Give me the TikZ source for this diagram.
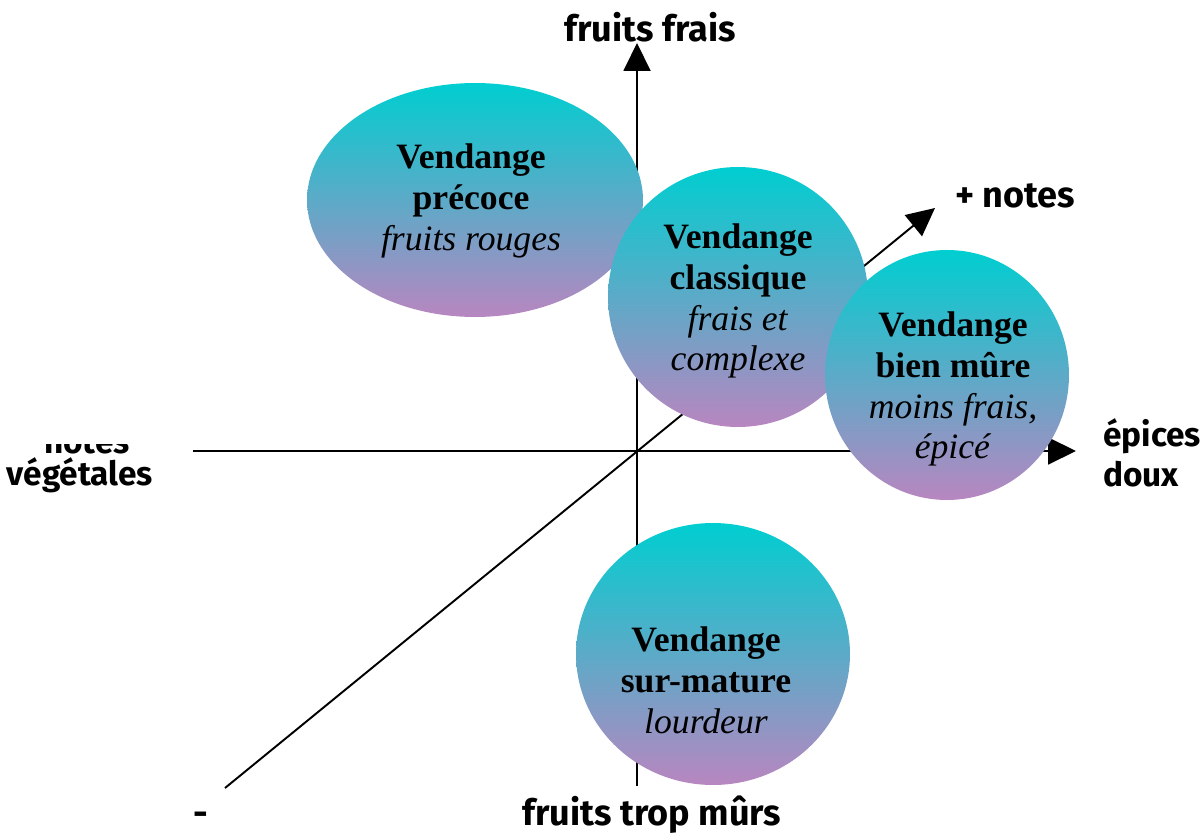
\documentclass[tikz,border=0pt]{standalone}
\usepackage{fontspec}
\setmainfont{Liberation Serif}
\newfontfamily\labelfont{Fira Sans}
\usetikzlibrary{arrows.meta,shapes.geometric}

\definecolor{bubbletop}{RGB}{0,206,208}
\definecolor{bubblebottom}{RGB}{184,134,192}

\begin{document}
\begin{tikzpicture}[x=0.02cm,y=-0.02cm,
  axisline/.style={line width=1.1pt,-{Triangle[length=0.56cm,width=0.54cm]}},
  bubble/.style={ellipse,inner sep=0pt,draw=none,top color=bubbletop,bottom color=bubblebottom},
  bubbletext/.style={align=center,inner sep=0pt,font=\fontsize{20.3}{23.3}\selectfont},
  axislabel/.style={inner sep=0pt,font=\labelfont\bfseries\fontsize{20.5}{24}\selectfont},
  sidelabel/.style={inner sep=0pt,font=\labelfont\bfseries\fontsize{19}{22}\selectfont}]
\useasboundingbox (0,0) rectangle (1203,834);

% axes
\coordinate (origin) at (637,451);
\coordinate (ytop) at (637,43);
\coordinate (ybot) at (637,786);
\coordinate (xleft) at (193,451);
\coordinate (xright) at (1076,451);
\coordinate (zfar) at (225,788);
\coordinate (znear) at (935,208);
\draw[axisline] (ybot) -- (ytop);
\draw[axisline] (xleft) -- (xright);
\draw[axisline] (zfar) -- (znear);

% harvest bubbles
\node[bubble,minimum width=6.72cm,minimum height=4.68cm] (precoce) at (475,200) {};
\node[bubble,minimum width=5.2cm,minimum height=5.2cm] (classique) at (738,297) {};
\node[bubble,minimum width=4.88cm,minimum height=5.0cm] (mure) at (947,375) {};
\node[bubble,minimum width=5.48cm,minimum height=5.24cm] (surmature) at (713,654) {};

\node[bubbletext] (tprecoce) at (471,201) {\textbf{Vendange}\\\textbf{précoce}\\\textit{fruits rouges}};
\node[bubbletext] (tclassique) at (738,301) {\textbf{Vendange}\\\textbf{classique}\\\textit{frais et}\\\textit{complexe}};
\node[bubbletext] (tmure) at (953,389) {\textbf{Vendange}\\\textbf{bien mûre}\\\textit{moins frais,}\\\textit{épicé}};
\node[bubbletext] (tsurmature) at (706,680) {\textbf{Vendange}\\\textbf{sur-mature}\\\textit{lourdeur}};

% axis labels
\node[axislabel,anchor=base] (lfrais) at (650,42) {fruits frais};
\node[axislabel,anchor=base] (lnotes) at (1015,208) {+ notes};
\node[sidelabel,anchor=base west] (lepices) at (1103,446) {épices};
\node[sidelabel,anchor=base west] (ldoux) at (1103,486) {doux};
\begin{scope}
  \clip (0,444) rectangle (200,470);
  \node[sidelabel,anchor=base] (lnotesveg) at (87,453) {notes};
\end{scope}
\node[sidelabel,anchor=base] (lvegetales) at (80,485) {végétales};
\node[axislabel,anchor=base] (ltropmurs) at (652,825) {fruits trop mûrs};
\node[axislabel,anchor=base] (lmoins) at (201,825) {-};
\end{tikzpicture}
\end{document}
